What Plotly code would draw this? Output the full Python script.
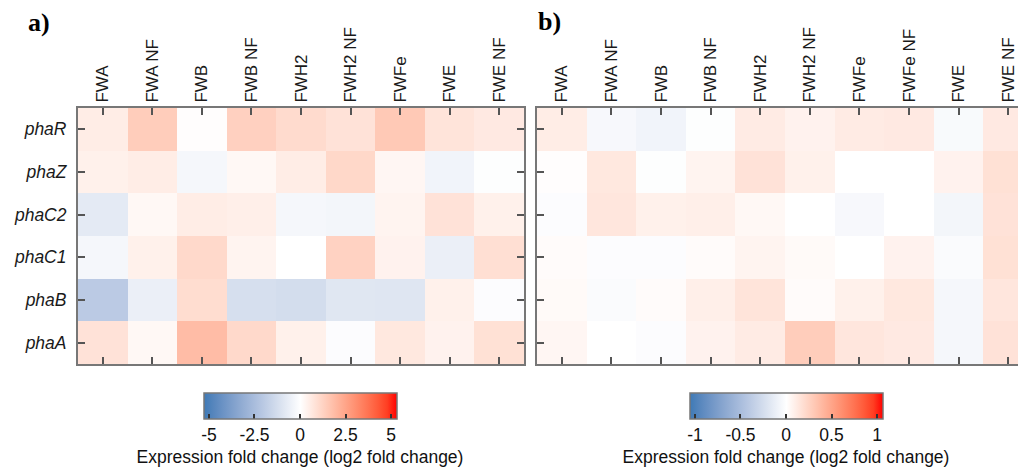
import plotly.graph_objects as go

# ---------------- data ----------------
genes = ["phaR", "phaZ", "phaC2", "phaC1", "phaB", "phaA"]

cond_a = ["FWA", "FWA NF", "FWB", "FWB NF", "FWH2", "FWH2 NF", "FWFe", "FWE", "FWE NF"]
cond_b = ["FWA", "FWA NF", "FWB", "FWB NF", "FWH2", "FWH2 NF", "FWFe", "FWFe NF", "FWE", "FWE NF"]

# log2 fold change, panel a (rows = genes, cols = cond_a)
vals_a = [
    [0.50, 1.40, 0.05, 1.30, 1.00, 0.80, 1.50, 0.75, 0.60],     # phaR
    [0.40, 0.50, -0.30, 0.20, 0.50, 1.10, 0.25, -0.40, -0.05],  # phaZ
    [-0.80, 0.20, 0.50, 0.45, -0.30, -0.35, 0.30, 0.80, 0.40],  # phaC2
    [-0.30, 0.40, 1.05, 0.30, 0.00, 1.25, 0.35, -0.60, 0.90],   # phaC1
    [-2.00, -0.60, 0.95, -1.20, -1.30, -0.90, -0.95, 0.40, -0.10],  # phaB
    [0.80, 0.20, 1.85, 1.05, 0.40, -0.10, 0.65, 0.35, 0.85],    # phaA
]

# log2 fold change, panel b (rows = genes, cols = cond_b)
vals_b = [
    [0.10, -0.05, -0.08, -0.01, 0.11, 0.07, 0.11, 0.12, -0.04, 0.12],  # phaR
    [0.01, 0.13, -0.01, 0.06, 0.16, 0.08, 0.00, 0.00, 0.07, 0.17],     # phaZ
    [-0.02, 0.14, 0.08, 0.09, 0.04, 0.00, -0.05, 0.00, -0.07, 0.16],   # phaC2
    [0.02, -0.02, -0.02, 0.02, 0.06, 0.03, 0.00, 0.07, -0.03, 0.17],   # phaC1
    [0.03, -0.03, 0.02, 0.09, 0.15, 0.02, 0.08, 0.13, -0.06, 0.14],    # phaB
    [0.05, 0.00, -0.02, 0.07, 0.11, 0.28, 0.14, 0.12, -0.06, 0.16],    # phaA
]

ticks_a = [-5, -2.5, 0, 2.5, 5]
ticks_b = [-1, -0.5, 0, 0.5, 1]
cbar_title = "Expression fold change (log2 fold change)"


# ---------------- colour scale (Lab interpolation blue-white-red) ----------------
def _hex2rgb(h):
    h = h.lstrip("#")
    return [int(h[i:i + 2], 16) / 255 for i in (0, 2, 4)]


def _rgb2lab(rgb):
    lin = [((c + 0.055) / 1.055) ** 2.4 if c > 0.04045 else c / 12.92 for c in rgb]
    X = (0.4124 * lin[0] + 0.3576 * lin[1] + 0.1805 * lin[2]) / 0.95047
    Y = (0.2126 * lin[0] + 0.7152 * lin[1] + 0.0722 * lin[2])
    Z = (0.0193 * lin[0] + 0.1192 * lin[1] + 0.9505 * lin[2]) / 1.08883
    f = lambda t: t ** (1 / 3) if t > 0.008856 else 7.787 * t + 16 / 116
    fx, fy, fz = f(X), f(Y), f(Z)
    return [116 * fy - 16, 500 * (fx - fy), 200 * (fy - fz)]


def _lab2hex(lab):
    L, a, b = lab
    fy = (L + 16) / 116
    fx = fy + a / 500
    fz = fy - b / 200
    fi = lambda t: t ** 3 if t ** 3 > 0.008856 else (t - 16 / 116) / 7.787
    X, Y, Z = fi(fx) * 0.95047, fi(fy), fi(fz) * 1.08883
    r = 3.2406 * X - 1.5372 * Y - 0.4986 * Z
    g = -0.9689 * X + 1.8758 * Y + 0.0415 * Z
    bb = 0.0557 * X - 0.2040 * Y + 1.0570 * Z
    out = []
    for c in (r, g, bb):
        c = 1.055 * c ** (1 / 2.4) - 0.055 if c > 0.0031308 else 12.92 * c
        out.append(int(round(max(0, min(1, c)) * 255)))
    return "#%02x%02x%02x" % tuple(out)


def lab_scale(c0, c1, c2, n=10):
    l0, l1, l2 = _rgb2lab(_hex2rgb(c0)), _rgb2lab(_hex2rgb(c1)), _rgb2lab(_hex2rgb(c2))
    stops = []
    for i in range(n + 1):
        t = i / n
        stops.append([t / 2, _lab2hex([l0[k] + (l1[k] - l0[k]) * t for k in range(3)])])
    for i in range(1, n + 1):
        t = i / n
        stops.append([0.5 + t / 2, _lab2hex([l1[k] + (l2[k] - l1[k]) * t for k in range(3)])])
    return stops


cscale = lab_scale("#3f7ab6", "#ffffff", "#ff0000")

# ---------------- figure ----------------
# the page body has an 8 px margin: figure is 1018x466 placed at (8, 8)
OFF = 8
W, H = 1026 - OFF, 474 - OFF


def px(x):  # screen x -> paper fraction
    return (x - OFF) / W


def py(y):  # screen y -> paper fraction
    return 1 - (y - OFF) / H


fig = go.Figure()

pad_a = 5.3
pad_b = 1.06

cb_common = dict(
    orientation="h",
    lenmode="pixels",
    thicknessmode="pixels",
    thickness=26,
    len=193,
    xanchor="center",
    yanchor="top",
    y=py(393),
    xpad=0,
    ypad=0,
    outlinecolor="#777777",
    outlinewidth=1.5,
    ticks="inside",
    ticklen=5,
    tickwidth=1.5,
    tickcolor="#333333",
    tickfont=dict(family="Liberation Sans, Arial", size=17.5, color="#111111"),
    title=dict(text=cbar_title, side="bottom",
               font=dict(family="Liberation Sans, Arial", size=17.5, color="#111111")),
)

fig.add_trace(go.Heatmap(
    z=vals_a, x=cond_a, y=genes,
    colorscale=cscale, zmin=-pad_a, zmax=pad_a,
    xaxis="x", yaxis="y",
    colorbar=dict(cb_common, x=px(300), tickvals=ticks_a,
                  ticktext=["-5", "-2.5", "0", "2.5", "5"]),
    hovertemplate="%{y} / %{x}: %{z}<extra></extra>",
))

fig.add_trace(go.Heatmap(
    z=vals_b, x=cond_b, y=genes,
    colorscale=cscale, zmin=-pad_b, zmax=pad_b,
    xaxis="x2", yaxis="y2",
    colorbar=dict(cb_common, x=px(786), tickvals=ticks_b,
                  ticktext=["-1", "-0.5", "0", "0.5", "1"]),
    hovertemplate="%{y} / %{x}: %{z}<extra></extra>",
))

ydom = [py(364), py(108)]
axis_line = dict(showline=True, linecolor="#777777", linewidth=2, showgrid=False,
                 zeroline=False, ticks="inside", ticklen=7, tickwidth=1.5,
                 tickcolor="#555555", automargin=False)
xfont = dict(family="Liberation Sans, Arial", size=17, color="#1a1a1a")
yfont = dict(family="Liberation Sans, Arial", size=17.5, color="#1a1a1a", style="italic")

fig.update_layout(
    width=W, height=H,
    margin=dict(l=0, r=0, t=0, b=0, autoexpand=False),
    paper_bgcolor="white", plot_bgcolor="white",
    showlegend=False,
    xaxis=dict(axis_line, domain=[px(78), px(524)], side="top", tickangle=-90,
               mirror="ticks", tickfont=xfont, anchor="y",
               range=[-0.5, len(cond_a) - 0.5]),
    yaxis=dict(axis_line, domain=ydom, autorange="reversed", mirror="ticks",
               tickfont=yfont, anchor="x", ticklabelstandoff=6),
    xaxis2=dict(axis_line, domain=[px(537), 1.0], side="top", tickangle=-90,
                mirror="ticks", tickfont=xfont, anchor="y2",
                range=[-0.5, -0.5 + (1026 - 537) / 49.6]),
    yaxis2=dict(axis_line, domain=ydom, autorange="reversed", mirror=False,
                showticklabels=False, anchor="x2"),
    annotations=[
        dict(text="<b>a)</b>", x=px(26), y=py(22), xref="paper", yref="paper",
             xanchor="left", yanchor="middle", showarrow=False,
             font=dict(family="Liberation Serif, Times New Roman", size=26, color="#000000")),
        dict(text="<b>b)</b>", x=px(536), y=py(21), xref="paper", yref="paper",
             xanchor="left", yanchor="middle", showarrow=False,
             font=dict(family="Liberation Serif, Times New Roman", size=26, color="#000000")),
    ],
)

fig.write_html("out.html")
